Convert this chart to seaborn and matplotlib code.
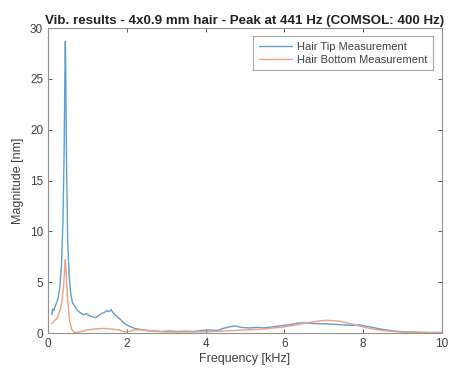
import numpy as np
import pandas as pd
import matplotlib
matplotlib.use("Agg")
import matplotlib.pyplot as plt
import seaborn as sns

freq_tip = [0.10,0.12,0.15,0.18,0.22,0.26,0.30,0.34,0.38,0.41,0.43,0.44,0.45,0.47,0.50,0.54,0.58,0.62,0.68,0.75,
            0.82,0.90,0.98,1.05,1.12,1.20,1.28,1.35,1.42,1.50,1.55,1.60,1.65,1.70,1.78,1.85,1.92,2.00,2.10,2.20,
            2.35,2.50,2.70,2.90,3.10,3.30,3.50,3.70,3.90,4.10,4.30,4.45,4.60,4.75,4.90,5.10,5.30,5.50,5.70,5.90,
            6.10,6.30,6.50,6.70,6.90,7.10,7.30,7.50,7.70,7.90,8.10,8.30,8.50,8.70,8.90,9.10,9.40,9.70,10.0]
mag_tip = [1.8,2.4,2.2,2.6,3.0,3.5,4.5,6.5,11,18,26,28.7,26,17,9,5.5,3.8,3.0,2.6,2.2,
           2.0,1.8,1.9,1.7,1.6,1.5,1.7,1.9,2.0,2.2,2.1,2.3,2.0,1.8,1.5,1.3,1.0,0.8,0.6,0.45,
           0.35,0.25,0.2,0.15,0.2,0.15,0.18,0.15,0.25,0.3,0.25,0.45,0.6,0.7,0.55,0.5,0.55,0.5,0.6,0.7,
           0.8,0.95,1.0,0.95,0.9,0.9,0.85,0.8,0.75,0.8,0.65,0.5,0.35,0.25,0.15,0.1,0.08,0.05,0.05]

freq_bottom = [0.10,0.15,0.20,0.25,0.30,0.35,0.40,0.43,0.44,0.46,0.50,0.55,0.60,0.65,0.70,0.80,1.00,1.20,1.40,1.60,
               1.80,1.95,2.05,2.20,2.40,2.60,3.00,3.50,4.00,4.50,5.00,5.50,6.00,6.30,6.60,6.90,7.10,7.40,7.70,8.00,
               8.30,8.60,9.00,9.50,10.0]
mag_bottom = [0.9,1.2,1.3,1.6,2.2,3.0,4.8,6.8,7.2,6.0,3.2,1.2,0.4,0.1,0.05,0.1,0.3,0.4,0.45,0.4,
              0.3,0.1,0.15,0.3,0.3,0.2,0.1,0.1,0.12,0.2,0.3,0.4,0.6,0.8,1.0,1.2,1.25,1.15,0.9,0.6,
              0.35,0.2,0.08,0.03,0.02]

series_names = ["Hair Tip Measurement", "Hair Bottom Measurement"]
title = "Vib. results - 4x0.9 mm hair - Peak at 441 Hz (COMSOL: 400 Hz)"

df = pd.concat([
    pd.DataFrame({"f": freq_tip, "m": mag_tip, "s": series_names[0]}),
    pd.DataFrame({"f": freq_bottom, "m": mag_bottom, "s": series_names[1]}),
])

sns.set_theme(style="white")
plt.rcParams['font.family'] = ['Liberation Sans', 'DejaVu Sans']

fig = plt.figure(figsize=(4.55, 3.7), dpi=100)
ax = fig.add_axes([0.1055, 0.10, 0.8655, 0.824])
sns.lineplot(data=df, x="f", y="m", hue="s", palette=["#5d9fd3", "#f0a07e"],
             linewidth=1.0, ax=ax, sort=True, estimator=None)

ax.set_xlim(0, 10)
ax.set_ylim(0, 30)
ax.set_xticks([0, 2, 4, 6, 8, 10])
ax.set_yticks([0, 5, 10, 15, 20, 25, 30])
ax.tick_params(direction="in", length=3, labelsize=8.5, colors="#404040",
               top=True, right=True, bottom=True, left=True, width=0.6)
for sp in ax.spines.values():
    sp.set_color("#909090")
    sp.set_linewidth(0.8)
ax.set_xlabel("Frequency [kHz]", fontsize=9, color="#404040", labelpad=2)
ax.set_ylabel("Magnitude [nm]", fontsize=9, color="#404040", labelpad=4)
ax.set_title(title, fontsize=9.6, fontweight="bold", color="#222222", pad=3)

leg = ax.legend(loc="upper right", fontsize=8, frameon=True, fancybox=False,
                edgecolor="#909090", handlelength=3.0, borderpad=0.5, labelspacing=0.3,
                handletextpad=0.4, borderaxespad=0, bbox_to_anchor=(0.977, 0.974))
leg.get_frame().set_linewidth(0.8)
for t in leg.get_texts():
    t.set_color("#404040")

fig.savefig("out.png", dpi=100, facecolor="white")
